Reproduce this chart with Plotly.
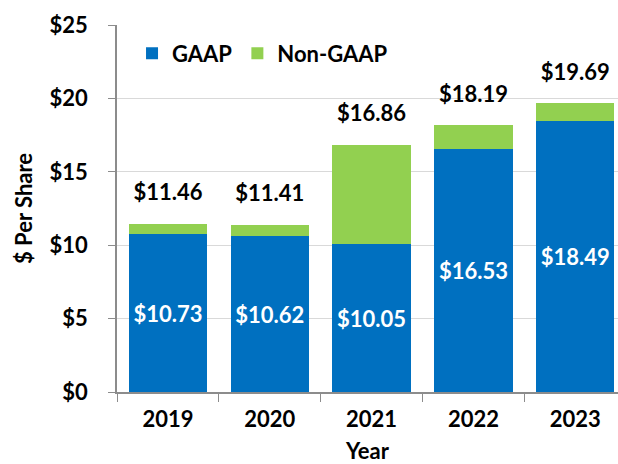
import plotly.graph_objects as go

years = ["2019", "2020", "2021", "2022", "2023"]
gaap = [10.73, 10.62, 10.05, 16.53, 18.49]
non_gaap_total = [11.46, 11.41, 16.86, 18.19, 19.69]
non_gaap_add = [round(t - g, 2) for t, g in zip(non_gaap_total, gaap)]
y_ticks = [0, 5, 10, 15, 20, 25]
y_tick_labels = ["$0", "$5", "$10", "$15", "$20", "$25"]

BLUE = "#0070C0"
GREEN = "#92D050"
FONT = "Lato"

fig = go.Figure()
fig.add_trace(go.Bar(
    x=years, y=gaap, name="GAAP", marker=dict(color=BLUE, line=dict(width=0)),
    text=[f"${v:.2f}" for v in gaap], textposition="inside",
    insidetextanchor="middle", textangle=0,
    textfont=dict(color="white", size=22, family=FONT, weight="bold"),
    hoverinfo="skip",
))
fig.add_trace(go.Bar(
    x=years, y=non_gaap_add, name="Non-GAAP", marker=dict(color=GREEN, line=dict(width=0)),
    hoverinfo="skip",
))
fig.add_trace(go.Scatter(
    x=years, y=non_gaap_total, mode="markers+text", showlegend=False,
    marker=dict(size=27, color="rgba(0,0,0,0)"),
    text=[f"${v:.2f}" for v in non_gaap_total], textposition="top center",
    textfont=dict(size=22, color="black", family=FONT, weight="bold"),
    hoverinfo="skip", cliponaxis=False,
))

fig.update_layout(
    width=618, height=464,
    barmode="stack", bargap=0.23,
    plot_bgcolor="white", paper_bgcolor="white",
    margin=dict(l=117, r=0, t=25, b=72),
    font=dict(family=FONT, color="black", size=22, weight="bold"),
    showlegend=True,
    legend=dict(orientation="h", x=0.03, y=0.98, xanchor="left", yanchor="top",
                font=dict(size=22, family=FONT, weight="bold"),
                bgcolor="rgba(0,0,0,0)", itemwidth=30, traceorder="normal"),
    xaxis=dict(
        type="category",
        range=[-0.5, 4.42], showgrid=False, showline=True, linecolor="#8c8c8c", linewidth=1.5,
        ticks="outside", tickson="boundaries", ticklen=8, tickcolor="#8c8c8c",
        tickfont=dict(size=22, family=FONT, weight="bold"), ticklabelstandoff=7,
        title=dict(text="Year", font=dict(size=22, family=FONT, weight="bold"), standoff=12),
    ),
    yaxis=dict(
        range=[0, 25], tickvals=y_ticks, ticktext=y_tick_labels,
        showgrid=True, gridcolor="#d9d9d9", gridwidth=1,
        showline=True, linecolor="#8c8c8c", linewidth=1.5,
        ticks="outside", ticklen=7, tickcolor="#8c8c8c",
        tickfont=dict(size=22, family=FONT, weight="bold"), ticklabelstandoff=16,
        title=dict(text="$ Per Share", font=dict(size=22, family=FONT, weight="bold"), standoff=11),
        zeroline=False,
    ),
)

fig.write_html("out.html", config={"displayModeBar": False},
               post_script="document.body.style.margin='0';")
